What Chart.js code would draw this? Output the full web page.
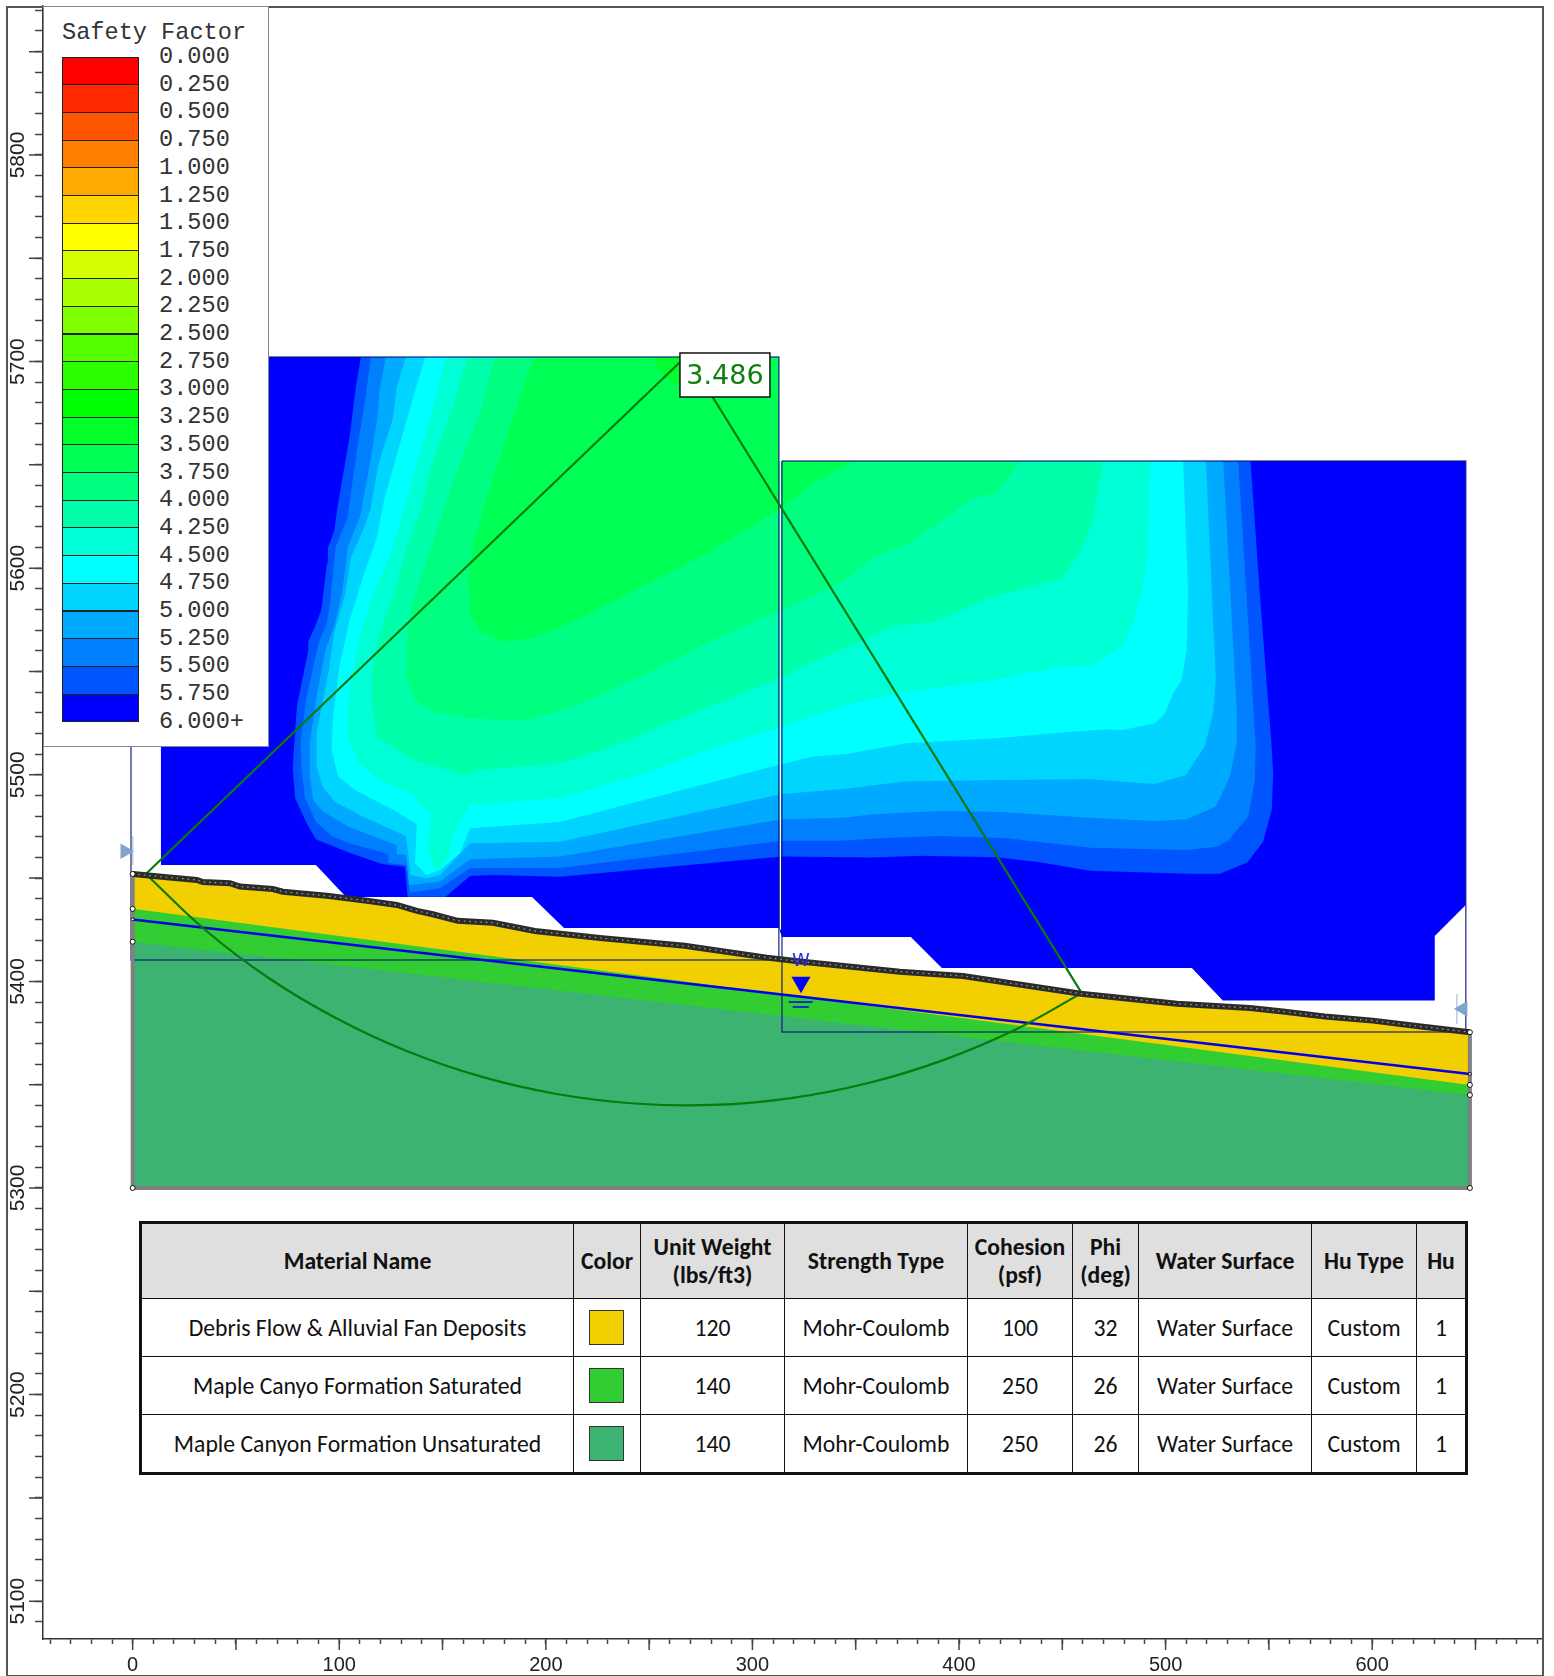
<!DOCTYPE html>
<html>
<head>
<meta charset="utf-8">
<title>Safety Factor</title>
<script src="https://cdn.jsdelivr.net/npm/chart.js@4/dist/chart.umd.min.js"></script>
<style>
  html, body { margin: 0; padding: 0; background: #fff; width: 1554px; height: 1676px; overflow: hidden; }
  #wrap { position: relative; width: 1554px; height: 1676px; }
  #slope { position: absolute; left: 0; top: 0; }
  #frame { position: absolute; left: 6px; top: 6px; width: 1534px; height: 1667px; border: 2px solid #555; }
  #legend { position: absolute; left: 43px; top: 6px; width: 224px; height: 739px; background: #fff; border: 1.5px solid #888; font-family: "Liberation Mono", monospace; color: #333; }
  #legend .title { position: absolute; left: 18px; top: 12px; font-size: 23.6px; line-height: 28px; white-space: nowrap; }
  #legend .lab { position: absolute; left: 115px; font-size: 23.6px; line-height: 28px; white-space: nowrap; }
  #legend .band { position: absolute; left: 18px; width: 77px; box-sizing: border-box; border: 1px solid #222; }
  #props { position: absolute; left: 139px; top: 1221px; width: 1326px; height: 250px; box-sizing: border-box; border: 3.5px solid #111; border-collapse: collapse; table-layout: fixed; font-family: Carlito, Lato, sans-serif; font-size: 23.7px; color: #111; text-align: center; background: #fff; }
  #props th, #props td { border: 1.5px solid #111; padding: 0; }
  #props th { background: #dfdfdf; font-weight: bold; line-height: 28px; height: 74px; }
  #props td { height: 57px; }
  #props .swatch { display: inline-block; position: relative; left: -1px; width: 33px; height: 33px; border: 1px solid #333; vertical-align: middle; }
</style>
</head>
<body>
<div id="wrap">
  <canvas id="slope" width="1554" height="1676"></canvas>
  <div id="frame"></div>
  <div id="legend"></div>
  <table id="props"></table>
</div>
<script>
// legend
const legendLabels = ['0.000','0.250','0.500','0.750','1.000','1.250','1.500','1.750','2.000','2.250','2.500','2.750','3.000','3.250','3.500','3.750','4.000','4.250','4.500','4.750','5.000','5.250','5.500','5.750','6.000+'];
const legendColors = ['#ff0000','#ff2b00','#ff5500','#ff8000','#ffaa00','#ffd500','#ffff00','#d5ff00','#aaff00','#80ff00','#55ff00','#2bff00','#00ff00','#00ff2b','#00ff55','#00ff80','#00ffaa','#00ffd5','#00ffff','#00d5ff','#00aaff','#0080ff','#0055ff','#0000ff'];

// material table
const tableHead = ['Material Name','Color','Unit Weight<br>(lbs/ft3)','Strength Type','Cohesion<br>(psf)','Phi<br>(deg)','Water Surface','Hu Type','Hu'];
const tableRows = [
  ['Debris Flow &amp; Alluvial Fan Deposits','#f2cf00','120','Mohr-Coulomb','100','32','Water Surface','Custom','1'],
  ['Maple Canyo Formation Saturated','#32cd32','140','Mohr-Coulomb','250','26','Water Surface','Custom','1'],
  ['Maple Canyon Formation Unsaturated','#3cb371','140','Mohr-Coulomb','250','26','Water Surface','Custom','1']
];
const tableCols = [433, 67, 144, 183, 105, 66, 173, 105, 50];

// slope section, x and elevation in ft
const groundSurface = [[0.1,5452],[16.6,5450.4],[31.1,5449.1],[34,5448.1],[47.1,5447.5],[51.9,5445.9],[67.9,5444.7],[72.7,5443.4],[94,5441.4],[113.4,5439],[127.9,5437],[137.6,5434.1],[145.3,5432.5],[157.4,5429.3],[174.4,5428.4],[194.7,5424.4],[226.2,5421],[267.3,5417.2],[274.6,5416.2],[307,5411.5],[323,5409.6],[371.4,5404.7],[401.9,5402.6],[459,5394],[505.5,5389.2],[540.8,5387.1],[556.8,5385.4],[577,5383],[600.3,5381],[621.6,5378.4],[647.3,5375.4]];
const sectionBase = [[647.3,5300],[0,5300]];
const saturatedTop = [[0,5435.1],[647.3,5349.9]];
const unsaturatedTop = [[0,5419.2],[647.3,5345]];
const sectionEdge = [[0,5452],[0,5300],[647.3,5300],[647.3,5375.4]];
const waterTable = [[0,5430],[647.3,5355.2]];
const vertices = [[0,5452],[0,5435.1],[0,5419.2],[0,5300],[647.3,5375.4],[647.3,5349.9],[647.3,5345],[647.3,5300]];
const waterEnds = [[0,5430],[647.3,5355.2]];
const waterMark = [[323.5,5399.6]];
const waterBar1 = [[317.6,5390],[329.1,5390]];
const waterBar2 = [[319.5,5387.6],[327.3,5387.6]];

// critical slip surface
const slipCenter = [268.3,5703];
const slipArc = [[6.4,5452],[35,5425],[65.3,5402],[97.9,5382.5],[132.3,5366.4],[168.3,5354],[205.3,5345.5],[243,5340.9],[281,5340.2],[318.8,5343.5],[356.1,5350.8],[392.4,5361.9],[427.4,5376.7],[459.4,5394.3]];
const slipLabel = '3.486';
const slipLabelAt = [286.7,5693.5];

// search grids and limits
const gridLeft = [[-0.8,5702.2],[312.8,5702.2],[312.8,5410.4],[-0.8,5410.4],[-0.8,5702.2]];
const gridRight = [[314.3,5651.9],[645.3,5651.9],[645.3,5375.5],[314.3,5375.5],[314.3,5651.9]];
const gridGap = [[313.5,5651.9],[313.5,5425]];
const limitLeft = [[-3.7,5463]];
const limitRight = [[643.9,5386.7]];
const limitLeftBar = [[0,5470.4],[0,5456.4]];
const limitRightBar = [[641,5393.9],[641,5379.4]];

// safety factor contours, outermost first
const fieldColors = ['#0000ff','#0055ff','#0080ff','#00aaff','#00d5ff','#00ffff','#00ffd5','#00ffaa','#00ff80','#00ff55','#00ff2b'];
const field6 = [[13.7,5702.2],[312.8,5702.2],[312.8,5651.9],[314.3,5651.9],[645.3,5651.9],[645.3,5437],[630.3,5422],[630.3,5390.7],[527.7,5390.7],[512.7,5406.5],[391.7,5406.5],[376.7,5421.5],[314.3,5421.5],[312.8,5425.8],[208.8,5425.8],[193.3,5440.9],[103.3,5440.9],[88.7,5456.3],[13.7,5456.3]];
const field575 = [[133.1,5441],[131.8,5455.5],[120.5,5456.8],[103.6,5462.8],[88.7,5468.8],[84.2,5476.7],[78.6,5488.8],[77.5,5503.3],[78,5512],[79.6,5533.8],[84.9,5559.6],[85,5564.4],[88.6,5572.5],[91.3,5579.8],[94.1,5602.5],[94.5,5609.8],[97.5,5617.7],[99.2,5629.8],[105,5663.6],[108.3,5689.6],[110.5,5702.2],[312.8,5702.2],[312.8,5651.9],[314.3,5651.9],[541.1,5651.9],[545.6,5587.8],[548.9,5544.4],[551.3,5514.4],[552.1,5499.9],[551.4,5483.3],[547.2,5467.6],[539.5,5457.5],[526.3,5452.1],[510.2,5452.1],[463.4,5453.6],[439.2,5457.6],[418.2,5460.1],[381.1,5460.8],[358.3,5459.9],[314.3,5460.4],[206.8,5450.7],[174.4,5451.5],[163.3,5451],[151.5,5441]];
const field55 = [[134,5442.9],[132.6,5456.3],[123.7,5457.3],[123.7,5461.7],[104.4,5467],[96.3,5470.4],[88.7,5477.3],[83.4,5488.8],[81.8,5502.3],[81.3,5515.4],[83.9,5536.2],[90,5563.8],[94.1,5573.3],[95.8,5586.2],[98.3,5610.4],[104.1,5624.9],[105.3,5634.6],[109.1,5660.4],[112.5,5681.4],[115.4,5702.2],[312.8,5702.2],[312.8,5651.9],[314.3,5651.9],[535.1,5651.9],[540.8,5560.4],[543.6,5514.4],[543.2,5497.5],[540,5479.7],[530.3,5468.1],[524.7,5465.2],[510.2,5463.6],[463.4,5464.7],[423,5469.3],[390.8,5470.4],[361.7,5469.3],[342.4,5468.1],[314.3,5468.1],[206.8,5454.9],[163.3,5454.7],[148.8,5445.1]];
const field525 = [[133.9,5446.7],[132.3,5461.2],[127.8,5461.7],[127.8,5466],[104.4,5474.9],[92.3,5482.1],[87.4,5487.8],[85.8,5499.1],[85.8,5515.4],[88.7,5536.2],[93.3,5560.4],[97.5,5571.7],[101.6,5589.4],[104.1,5610.4],[110,5624.9],[114.6,5649.1],[118.3,5671.7],[119.6,5686.2],[122.5,5702.2],[312.8,5702.2],[312.8,5651.9],[314.3,5651.9],[527.9,5651.9],[534.4,5531.4],[534.4,5515.4],[531.1,5499.1],[524.3,5484.6],[510.2,5478.5],[494.8,5477.6],[463.4,5479.2],[418.2,5482.1],[390.8,5482.5],[358.5,5480.9],[344,5479.2],[314.3,5478.5],[206.8,5460.4],[163.3,5459.1],[148.8,5448.3]];
const field5 = [[134.6,5451.5],[132.3,5470.4],[111.6,5479.7],[97.9,5487],[92.3,5493.6],[89.1,5503.9],[89.1,5520.2],[92.1,5536.2],[95,5550.7],[97.5,5568.6],[102.5,5586.2],[105.8,5605.6],[111.6,5618.5],[115,5628.2],[119.1,5650.9],[125.8,5671.7],[127.8,5687.2],[132.2,5702.2],[312.8,5702.2],[312.8,5651.9],[314.3,5651.9],[519.5,5651.9],[524.3,5545.9],[523,5529.8],[519,5513.9],[509.8,5499.9],[494.8,5495.5],[463.4,5497.8],[418.2,5497.5],[373,5496.7],[344,5493.1],[314.3,5490.7],[206.8,5467.6],[163.3,5466.8],[148.8,5451.5],[142.3,5449.9]];
const field475 = [[142.3,5451.5],[136.7,5457.2],[137.5,5476.2],[126.2,5483],[107.6,5492.6],[99.5,5499.1],[96.3,5512],[97,5528.1],[100,5552.3],[105,5574.9],[111.6,5595.9],[118.3,5615.2],[121.7,5633],[129.9,5662],[135,5679.9],[141.6,5702.2],[312.8,5702.2],[312.8,5651.9],[314.3,5651.9],[508.5,5651.9],[510.9,5587.8],[510.2,5560.4],[507.7,5545.9],[503.7,5539.4],[499.7,5529.8],[494.8,5524.9],[479.3,5521.7],[471.4,5522],[448.8,5520.4],[418.2,5517.7],[374.6,5515.2],[345.6,5510.1],[329.4,5508.8],[314.3,5505.2],[206.8,5477.2],[163.3,5474.1],[158.4,5462],[148.8,5453.9]];
const field45 = [[145.5,5455.5],[143.1,5465.2],[144.7,5482.1],[137.5,5487],[136.7,5490.2],[119.7,5497.5],[109.2,5505.7],[104.4,5518.4],[104.2,5534.7],[106.7,5550.7],[110,5566.8],[116.6,5588],[125,5607.3],[131.6,5629.8],[138.3,5652.4],[145,5676.6],[151.7,5702.2],[312.8,5702.2],[312.8,5651.9],[314.3,5651.9],[492.1,5651.9],[491.6,5608.8],[489.2,5592.7],[485.1,5574.9],[479.5,5562.8],[465,5553.1],[448.8,5552.3],[416.6,5545.9],[369.8,5539.4],[345.6,5533.8],[314.3,5523.3],[278,5512],[245.6,5499.9],[206.8,5488.8],[163.3,5485.4],[155.2,5471.7],[152.8,5460.4],[148.8,5454.7]];
const field425 = [[160.9,5499.9],[135.8,5507.2],[118.1,5518.4],[115.7,5536.2],[115.8,5549.3],[119.1,5566.8],[127.5,5591],[133.3,5612.2],[140,5629.8],[145,5650.9],[154.1,5675.1],[162.1,5702.2],[312.8,5702.2],[312.8,5651.9],[314.3,5651.9],[469.5,5651.9],[464.2,5620.9],[457.7,5606.4],[449.7,5595.1],[416.6,5586.2],[387.5,5574.1],[369.8,5572.2],[353.6,5565.2],[342.4,5560.4],[314.3,5547.3],[228.1,5512],[206.8,5505.7],[164.7,5501.8]];
const field4 = [[132.2,5547.5],[132.4,5563.8],[135,5581.4],[144.2,5608.8],[151.7,5633],[159.9,5654],[168.3,5676.6],[175.4,5702.2],[312.8,5702.2],[312.8,5651.9],[314.3,5651.9],[429.8,5651.9],[419,5637],[405.3,5633],[389.2,5620.9],[374.6,5611.2],[359.3,5605.9],[344,5593.5],[334.3,5588.6],[314.3,5579.8],[278.3,5563.8],[245,5546.8],[211.7,5532.3],[189.9,5526.2],[161.6,5527.3],[145,5530.5],[136.7,5536.2]];
const field375 = [[162.5,5595.9],[165.8,5615.2],[171.7,5634.6],[183.3,5670.3],[194.2,5702.2],[312.8,5702.2],[312.8,5651.9],[314.3,5651.9],[349.6,5651.9],[329.4,5641.2],[314.3,5629.1],[278.3,5607.3],[245,5590.4],[211.7,5573.5],[193.3,5566.2],[180,5564.4],[168.3,5569.3],[163.3,5578.3]];
const field35 = [[252.3,5702.2],[255.7,5694.5],[264.9,5687.7],[274.6,5693.5],[281.8,5702.2]];
const fieldShapes = [field6, field575, field55, field525, field5, field475, field45, field425, field4, field375, field35];

// axes
const xMin = -43.4, xMax = 682.2, yMin = 5081.7, yMax = 5872.1;

const pts = arr => arr.map(p => ({ x: p[0], y: p[1] }));

function shape(arr, color) {
  return { data: pts(arr), showLine: true, fill: 'shape', backgroundColor: color, borderColor: color, borderWidth: 0, pointRadius: 0 };
}
function line(arr, color, width, extra) {
  return Object.assign({ data: pts(arr), showLine: true, fill: false, borderColor: color, borderWidth: width, pointRadius: 0 }, extra || {});
}
function marker(arr, style, radius, rotation, fillColor, edge, edgeWidth) {
  return { data: pts(arr), showLine: false, pointStyle: style, pointRadius: radius, pointRotation: rotation, backgroundColor: fillColor, borderColor: edge, pointBorderWidth: edgeWidth };
}

// painted in this order, bottom to top
const layers = [];
fieldShapes.forEach((f, i) => layers.push(shape(f, fieldColors[i])));
layers.push(line(gridGap, '#ffffff', 1.5));
layers.push(shape(groundSurface.concat(sectionBase), '#f2cf00'));
layers.push(shape(saturatedTop.concat(sectionBase), '#32cd32'));
layers.push(shape(unsaturatedTop.concat(sectionBase), '#3cb371'));
layers.push(line(gridLeft, 'rgba(10,20,120,0.75)', 1.5));
layers.push(line(gridRight, 'rgba(10,20,120,0.75)', 1.5));
layers.push(line(limitLeftBar, '#b9cbe2', 1.5));
layers.push(line(limitRightBar, '#b9cbe2', 1.5));
layers.push(marker(limitLeft, 'triangle', 9, 90, '#7fa3c9', '#7fa3c9', 0));
layers.push(marker(limitRight, 'triangle', 9, -90, '#7fa3c9', '#7fa3c9', 0));
layers.push(line(sectionEdge, '#808080', 4));
layers.push(line(waterTable, '#0000ee', 2.5));
layers.push(line(waterBar1, '#0000ee', 1.5));
layers.push(line(waterBar2, '#0000ee', 1.5));
layers.push(marker(waterMark, 'triangle', 11, 180, '#0000ff', '#0000ff', 0));
layers.push(line(slipArc, '#0a7a0a', 2.2, { tension: 0.4 }));
layers.push(line([slipArc[0], slipCenter, slipArc[slipArc.length - 1]], '#0a7a0a', 2.2));
layers.push(line(groundSurface, '#2b2b2b', 6));
layers.push(line(groundSurface, '#a5a5a5', 1.2, { borderDash: [1.5, 4] }));
layers.push(marker(vertices, 'circle', 2.5, 0, '#ffffff', '#111111', 1));
layers.push(marker(waterEnds, 'circle', 1.5, 0, '#ffffff', '#111111', 1));

// chart.js paints the first dataset last
const datasets = layers.slice().reverse();

// longer tick marks every 50 and the labels placed in data units
const slopeMarks = {
  id: 'slopeMarks',
  afterDraw(chart) {
    const { ctx, scales: { x, y }, chartArea: area } = chart;
    ctx.save();
    ctx.strokeStyle = '#444';
    ctx.lineWidth = 1.5;
    ctx.beginPath();
    x.getTicks().forEach(t => {
      if (t.value % 50 !== 0) return;
      const px = x.getPixelForValue(t.value);
      ctx.moveTo(px, area.bottom);
      ctx.lineTo(px, area.bottom + 11);
    });
    y.getTicks().forEach(t => {
      if (t.value % 50 !== 0) return;
      const py = y.getPixelForValue(t.value);
      ctx.moveTo(area.left, py);
      ctx.lineTo(area.left - 14, py);
    });
    ctx.stroke();

    // water symbol
    ctx.fillStyle = '#2a2af0';
    ctx.font = '18px "DejaVu Sans"';
    ctx.textAlign = 'center';
    ctx.textBaseline = 'middle';
    ctx.fillText('W', x.getPixelForValue(waterMark[0][0]), y.getPixelForValue(5398.3) - 24);

    // factor of safety label
    const lx = x.getPixelForValue(slipLabelAt[0]);
    const ly = y.getPixelForValue(slipLabelAt[1]);
    ctx.fillStyle = '#fff';
    ctx.strokeStyle = '#111';
    ctx.lineWidth = 1.5;
    ctx.fillRect(lx - 45, ly - 22, 90, 44);
    ctx.strokeRect(lx - 45, ly - 22, 90, 44);
    ctx.fillStyle = '#0f7f0f';
    ctx.font = '27px "DejaVu Sans"';
    ctx.fillText(slipLabel, lx, ly + 2);
    ctx.restore();
  }
};

// axis boxes with a set size, the rotated labels must not push the plot area in
function fixAxis(size) {
  return s => {
    if (s.isHorizontal()) s.height = size; else s.width = size;
    s.getPadding = () => ({ left: 0, top: 0, right: 0, bottom: 0 });
  };
}

const everyHundred = v => (v % 100 === 0 ? String(v) : '');

new Chart(document.getElementById('slope'), {
  type: 'scatter',
  data: { datasets },
  plugins: [slopeMarks],
  options: {
    responsive: false,
    animation: false,
    devicePixelRatio: 1,
    layout: { autoPadding: false, padding: { left: 6, right: 12, top: 6, bottom: 1 } },
    plugins: { legend: { display: false }, tooltip: { enabled: false } },
    events: [],
    scales: {
      x: {
        type: 'linear', min: xMin, max: xMax,
        afterFit: fixAxis(36),
        border: { display: true, color: '#333', width: 1.5 },
        grid: { display: true, drawOnChartArea: false, drawTicks: true, tickLength: 5, tickColor: '#444', tickWidth: 1.5 },
        ticks: {
          stepSize: 10, includeBounds: false, autoSkip: false, maxRotation: 0, padding: 9,
          color: '#222', font: { family: '"Liberation Sans"', size: 20 },
          callback: everyHundred
        }
      },
      y: {
        type: 'linear', min: yMin, max: yMax,
        afterFit: fixAxis(37),
        border: { display: true, color: '#333', width: 1.5 },
        grid: { display: true, drawOnChartArea: false, drawTicks: true, tickLength: 8, tickColor: '#444', tickWidth: 1.5 },
        ticks: {
          stepSize: 10, includeBounds: false, autoSkip: false, minRotation: 90, maxRotation: 90, padding: -7,
          crossAlign: 'center',
          color: '#222', font: { family: '"Liberation Sans"', size: 21 },
          callback: everyHundred
        }
      }
    }
  }
});

// legend box
const legendBox = document.getElementById('legend');
const title = document.createElement('div');
title.className = 'title';
title.textContent = 'Safety Factor';
legendBox.appendChild(title);
legendColors.forEach((c, i) => {
  const band = document.createElement('div');
  band.className = 'band';
  band.style.top = (49.5 + i * 27.7) + 'px';
  band.style.height = '28.7px';
  band.style.background = c;
  legendBox.appendChild(band);
});
legendLabels.forEach((t, i) => {
  const lab = document.createElement('div');
  lab.className = 'lab';
  lab.style.top = (36 + i * 27.7) + 'px';
  lab.textContent = t;
  legendBox.appendChild(lab);
});

// material table
const cols = tableCols.map(w => '<col style="width:' + w + 'px">').join('');
const head = '<tr>' + tableHead.map(t => '<th>' + t + '</th>').join('') + '</tr>';
const rows = tableRows.map(r => '<tr>' + r.map((t, i) => (
  i === 1 ? '<td><span class="swatch" style="background:' + t + '"></span></td>' : '<td>' + t + '</td>'
)).join('') + '</tr>').join('');
document.getElementById('props').innerHTML = '<colgroup>' + cols + '</colgroup>' + head + rows;
</script>
</body>
</html>
